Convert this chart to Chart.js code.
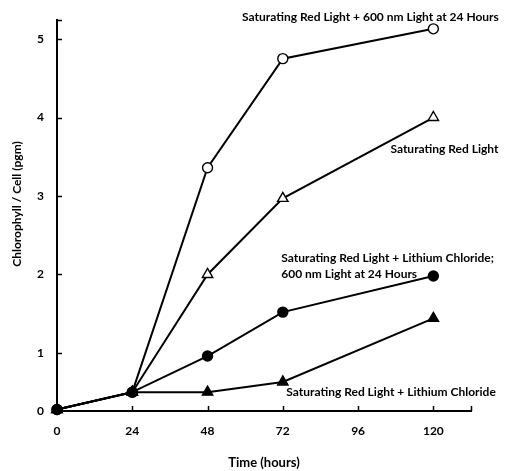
<!DOCTYPE html>
<html>
<head>
<meta charset="utf-8">
<script src="https://cdn.jsdelivr.net/npm/chart.js@4.4.0/dist/chart.umd.min.js"></script>
<style>
  html, body { margin: 0; padding: 0; background: #ffffff; }
  #wrap { width: 517px; height: 471px; }
</style>
</head>
<body>
<div id="wrap"><canvas id="c" width="517" height="471"></canvas></div>
<script>
// ---- data ----
const hours = [0, 24, 48, 72, 120];
const redPlus600 = [0.28, 0.50, 3.36, 4.75, 5.13];   // open circles
const redOnly = [0.28, 0.50, 2.00, 2.97, 4.00];      // open triangles
const redLiCl600 = [0.28, 0.50, 0.96, 1.52, 1.98];   // filled circles
const redLiCl = [0.28, 0.50, 0.50, 0.63, 1.44];      // filled triangles
const xTicks = [0, 24, 48, 72, 96, 120];
const yTicks = [0, 1, 2, 3, 4, 5];
const yAxisFloor = 0.26;   // broken axis: the "0" tick sits at the axis floor
const seriesNames = [
  'Saturating Red Light + 600 nm Light at 24 Hours',
  'Saturating Red Light',
  'Saturating Red Light + Lithium Chloride; 600 nm Light at 24 Hours',
  'Saturating Red Light + Lithium Chloride'
];
// annotation text, anchored in data units (hours, pgm)
const notes = [
  { lines: ['Saturating Red Light + 600 nm Light at 24 Hours'], x: 59.0, y: 5.28 },
  { lines: ['Saturating Red Light'], x: 106.3, y: 3.60 },
  { lines: ['Saturating Red Light + Lithium Chloride;', '600 nm Light at 24 Hours'], x: 71.5, y: 2.21 },
  { lines: ['Saturating Red Light + Lithium Chloride'], x: 73.1, y: 0.50 }
];

const FONT = 'Lato, "DejaVu Sans", sans-serif';
const pts = arr => hours.map((h, i) => ({ x: h, y: arr[i] }));

function ds(label, arr, style, filled, r, order) {
  return {
    label, data: pts(arr), showLine: true, order, clip: false,
    borderColor: '#000', borderWidth: 2,
    pointStyle: style, pointRadius: r, pointHoverRadius: r,
    pointBackgroundColor: filled ? '#000' : '#fff',
    pointBorderColor: '#000', pointBorderWidth: 1.4
  };
}

const deco = {
  id: 'deco',
  afterDraw(chart) {
    const ctx = chart.ctx, xs = chart.scales.x, ys = chart.scales.y, a = chart.chartArea;
    ctx.save();
    ctx.strokeStyle = '#000';
    ctx.lineWidth = 1.5;
    // inward tick marks on x axis
    xTicks.slice(1).concat([xs.max]).forEach(v => {
      const px = Math.round(xs.getPixelForValue(v)) + 0.5;
      ctx.beginPath(); ctx.moveTo(px, a.bottom); ctx.lineTo(px, a.bottom - 5); ctx.stroke();
    });
    // inward tick marks on y axis
    yTicks.slice(1).concat([ys.max]).forEach(v => {
      const py = Math.round(ys.getPixelForValue(v)) + 0.5;
      ctx.beginPath(); ctx.moveTo(a.left, py); ctx.lineTo(a.left + 5, py); ctx.stroke();
    });
    // annotations
    ctx.fillStyle = '#000';
    ctx.font = 'bold 12px ' + FONT;
    ctx.textAlign = 'left';
    ctx.textBaseline = 'middle';
    notes.forEach(n => {
      const px = xs.getPixelForValue(n.x);
      const py = ys.getPixelForValue(n.y);
      n.lines.forEach((t, i) => ctx.fillText(t, px, py + i * 16));
    });
    // y axis title
    ctx.font = 'bold 12px ' + FONT;
    ctx.textAlign = 'center';
    ctx.translate(17, 204);
    ctx.rotate(-Math.PI / 2);
    ctx.fillText('Chlorophyll / Cell (pgm)', 0, 0);
    ctx.restore();
  }
};

new Chart(document.getElementById('c'), {
  type: 'scatter',
  data: {
    datasets: [
      ds(seriesNames[0], redPlus600, 'circle', false, 5, 2),
      ds(seriesNames[1], redOnly, 'triangle', false, 6, 3),
      ds(seriesNames[2], redLiCl600, 'circle', true, 5, 0),
      ds(seriesNames[3], redLiCl, 'triangle', true, 6, 1)
    ]
  },
  options: {
    responsive: false,
    animation: false,
    layout: { padding: { left: 0, right: 46, top: 19, bottom: 0 } },
    plugins: { legend: { display: false }, tooltip: { enabled: false } },
    scales: {
      x: {
        type: 'linear', min: 0, max: 132,
        afterFit: s => { s.height = 60; },
        afterBuildTicks: s => { s.ticks = xTicks.map(v => ({ value: v })); },
        grid: { display: false, drawTicks: false },
        border: { display: true, color: '#000', width: 2 },
        ticks: { color: '#000', padding: 13, font: { family: FONT, size: 12, weight: 'bold' } },
        title: { display: true, text: 'Time (hours)', color: '#000', padding: { top: 0, bottom: 0 },
                 font: { family: FONT, size: 13, weight: 'bold' } }
      },
      y: {
        type: 'linear', min: yAxisFloor, max: 5.24,
        afterFit: s => { s.width = 57; },
        afterBuildTicks: s => { s.ticks = yTicks.map(v => ({ value: v === 0 ? yAxisFloor : v })); },
        grid: { display: false, drawTicks: false },
        border: { display: true, color: '#000', width: 2 },
        ticks: { color: '#000', padding: 13, font: { family: FONT, size: 12, weight: 'bold' },
                 callback: v => (v < 1 ? '0' : String(v)) }
      }
    }
  },
  plugins: [deco]
});
</script>
</body>
</html>
